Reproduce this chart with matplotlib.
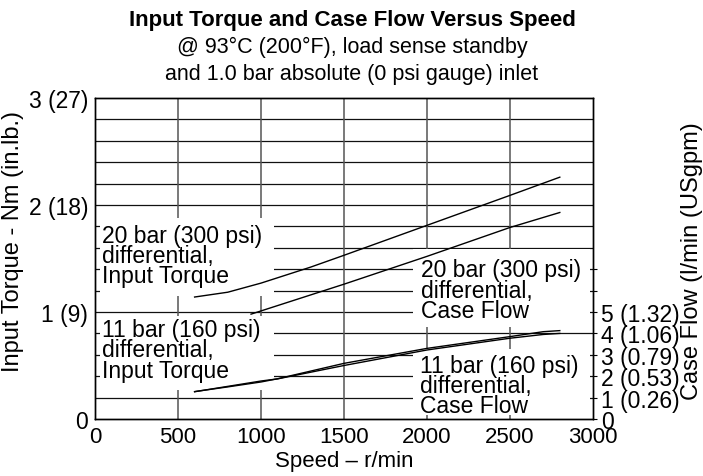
import matplotlib
matplotlib.use('Agg')
import matplotlib.pyplot as plt
from matplotlib.patches import Rectangle

plt.rcParams['font.family'] = ['Liberation Sans', 'DejaVu Sans']

# speed in r/min, torque in Nm, case flow in l/min
speed_20_torque = [600, 800, 1000, 1300, 1500, 2000, 2500, 2800]
torque_20 = [1.14, 1.185, 1.27, 1.42, 1.53, 1.81, 2.09, 2.26]

speed_20_flow = [940, 1500, 2000, 2500, 2800]
flow_20 = [4.9, 6.3, 7.6, 8.95, 9.65]

speed_11 = [600, 800, 1000, 1100, 1500, 2000, 2500, 2700, 2800]
torque_11 = [0.255, 0.305, 0.355, 0.375, 0.50, 0.645, 0.755, 0.79, 0.80]
flow_11 = [1.28, 1.5, 1.73, 1.88, 2.6, 3.3, 3.85, 4.08, 4.13]

x_ticks = [0, 500, 1000, 1500, 2000, 2500, 3000]
torque_ticks = [0, 1, 2, 3]
torque_labels = ['0', '1 (9)', '2 (18)', '3 (27)']
flow_ticks = [0, 1, 2, 3, 4, 5, 6, 7]
flow_labels = ['0', '1 (0.26)', '2 (0.53)', '3 (0.79)', '4 (1.06)', '5 (1.32)', '', '']

# label boxes: (x0, x1, y0, y1, text x, text y, text)
boxes = [
    (30, 1078, 1.15, 1.88, 40, 1.525, '20 bar (300 psi)\ndifferential,\nInput Torque'),
    (30, 1078, 0.27, 0.96, 40, 0.645, '11 bar (160 psi)\ndifferential,\nInput Torque'),
    (1916, 2982, 0.86, 1.59, 1963, 1.205, '20 bar (300 psi)\ndifferential,\nCase Flow'),
    (1916, 2982, 0.04, 0.65, 1960, 0.315, '11 bar (160 psi)\ndifferential,\nCase Flow'),
]

fig = plt.figure(figsize=(7.03, 4.77), dpi=100)
ax = fig.add_axes([95 / 703, 57 / 477, 498 / 703, 321 / 477])
ax2 = ax.twinx()

ax.set_xlim(0, 3000)
ax.set_ylim(0, 3)
ax2.set_ylim(0, 15)

# grid
for v in [0.2 * i for i in range(1, 15)]:
    ax.axhline(v, color='#111111', lw=0.9, zorder=1)
for v in x_ticks[1:-1]:
    ax.axvline(v, color='#555555', lw=1.1, zorder=1)

for x0, x1, y0, y1, tx, ty, txt in boxes:
    ax.add_patch(Rectangle((x0, y0), x1 - x0, y1 - y0, facecolor='white',
                           edgecolor='none', zorder=2))
    ax.text(tx, ty, txt, fontsize=16.5, va='center', ha='left',
            linespacing=0.84, zorder=4)

ax.plot(speed_20_torque, torque_20, color='black', lw=1.0, zorder=3)
ax.plot(speed_11, torque_11, color='black', lw=1.0, zorder=3)
ax2.plot(speed_20_flow, flow_20, color='black', lw=1.0, zorder=3)
ax2.plot(speed_11, flow_11, color='black', lw=1.0, zorder=3)

ax.set_xticks(x_ticks)
ax.set_xticklabels([str(t) for t in x_ticks], fontsize=16)
ax.set_yticks(torque_ticks)
ax.set_yticklabels(torque_labels, fontsize=16.5)
ax.tick_params(axis='both', length=0, pad=5)

ax2.set_yticks(flow_ticks)
ax2.set_yticklabels(flow_labels, fontsize=16.5)
ax2.tick_params(axis='y', length=3, width=0.8, pad=3, direction='out')

for sp in ax.spines.values():
    sp.set_linewidth(1.0)
for sp in ax2.spines.values():
    sp.set_linewidth(1.0)

fig.text(344 / 703, 1 - 462 / 477, 'Speed – r/min', fontsize=16,
         ha='center', va='center')
fig.text(13 / 703, 1 - 241 / 477, 'Input Torque - Nm (in.lb.)', fontsize=17,
         rotation=90, ha='center', va='center')
fig.text(692 / 703, 1 - 261 / 477, 'Case Flow (l/min (USgpm)', fontsize=17,
         rotation=90, ha='center', va='center')

fig.text(0.5007, 1 - 26 / 477, 'Input Torque and Case Flow Versus Speed',
         fontsize=16, fontweight='bold', ha='center', va='baseline')
fig.text(0.5007, 1 - 52.7 / 477, '@ 93°C (200°F), load sense standby',
         fontsize=15.5, ha='center', va='baseline')
fig.text(0.5007, 1 - 80 / 477, 'and 1.0 bar absolute (0 psi gauge) inlet',
         fontsize=15.5, ha='center', va='baseline')

fig.savefig('out.png', dpi=100)
